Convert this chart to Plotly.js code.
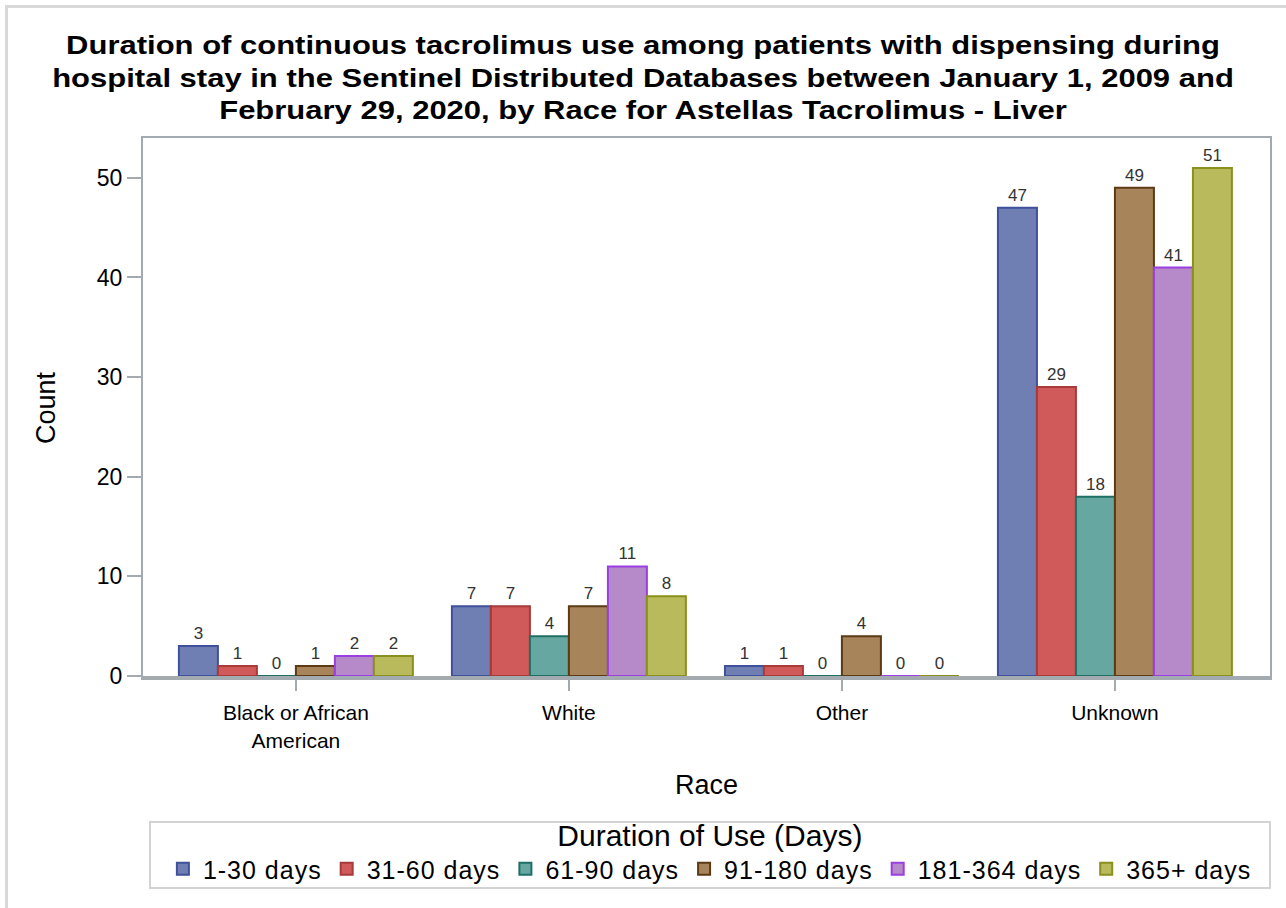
<!DOCTYPE html>
<html>
<head>
<meta charset="utf-8">
<script src="https://cdn.plot.ly/plotly-3.0.1.min.js"></script>
<style>
  html, body { margin: 0; padding: 0; overflow: hidden; background: #fff; }
  #chart { width: 1286px; height: 908px; }
  #frame { position: absolute; left: 5px; top: 5px; width: 1320px; height: 1000px;
           border-left: 3px solid #d9d9d9; border-top: 3px solid #d9d9d9; pointer-events: none; }
  .g-gtitle { transform: scale(1.24, 1); transform-origin: 643px 0px; }
  .legendtext { letter-spacing: 1px; }
</style>
</head>
<body>
<div id="chart"></div>
<div id="frame"></div>
<script>
const categories = ["Black or African<br>American", "White", "Other", "Unknown"];
const seriesNames = ["1-30 days", "31-60 days", "61-90 days", "91-180 days", "181-364 days", "365+ days"];
const days1to30 = [3, 7, 1, 47];
const days31to60 = [1, 7, 1, 29];
const days61to90 = [0, 4, 0, 18];
const days91to180 = [1, 7, 4, 49];
const days181to364 = [2, 11, 0, 41];
const days365plus = [2, 8, 0, 51];
const seriesValues = [days1to30, days31to60, days61to90, days91to180, days181to364, days365plus];
const yTicks = [0, 10, 20, 30, 40, 50];

const fills = ["#6F7EB3", "#D05A5A", "#66A8A1", "#A8845B", "#B689C9", "#B9BA5B"];
const lines = ["#3F519A", "#A83A3A", "#1F6F65", "#5B3A14", "#9B3FE0", "#8A901F"];

const font = "Liberation Sans, Arial, sans-serif";

const traces = seriesNames.map((name, i) => ({
  type: "bar",
  name: name,
  x: categories,
  y: seriesValues[i],
  text: seriesValues[i].map(String),
  textposition: "outside",
  cliponaxis: false,
  textfont: { family: font, size: 17, color: "#333" },
  marker: { color: fills[i], line: { color: lines[i], width: 2 } },
  hoverinfo: "x+y+name"
}));

const axisColor = "#a3abb0";

const layout = {
  width: 1286, height: 908,
  margin: { l: 143, r: 16, t: 138, b: 230 },
  paper_bgcolor: "#fff",
  plot_bgcolor: "#fff",
  font: { family: font, color: "#000" },
  title: {
    text: "<b>Duration of continuous tacrolimus use among patients with dispensing during<br>hospital stay in the Sentinel Distributed Databases between January 1, 2009 and<br>February 29, 2020, by Race for Astellas Tacrolimus - Liver</b>",
    font: { family: font, size: 25, color: "#000" },
    x: 0.5, xanchor: "center", xref: "container",
    y: 0.94, yref: "container", yanchor: "top",
    automargin: false
  },
  barmode: "group",
  bargap: 0.143,
  bargroupgap: 0,
  showlegend: true,
  xaxis: {
    range: [-0.56, 3.568],
    showline: true, linecolor: axisColor, linewidth: 2, mirror: true,
    ticks: "outside", ticklen: 11, tickwidth: 2, tickcolor: axisColor,
    ticklabelstandoff: 4,
    tickfont: { family: font, size: 21, color: "#000" },
    showgrid: false, zeroline: false,
    title: { text: "Race", font: { family: font, size: 27, color: "#000" }, standoff: 25 }
  },
  yaxis: {
    range: [-0.2, 54],
    tickvals: yTicks,
    showline: true, linecolor: axisColor, linewidth: 2, mirror: true,
    ticks: "outside", ticklen: 14, tickwidth: 2, tickcolor: axisColor,
    tickfont: { family: font, size: 23, color: "#000" },
    showgrid: false, zeroline: false,
    title: { text: "Count", font: { family: font, size: 27, color: "#000" }, standoff: 33 }
  },
  legend: {
    orientation: "h",
    xref: "paper", x: 0.503, xanchor: "center",
    yref: "container", y: 0.1112, yanchor: "top",
    bgcolor: "rgba(0,0,0,0)",
    borderwidth: 0,
    font: { family: font, size: 25, color: "#000" },
    title: { text: "Duration of Use (Days)", side: "top center", font: { family: font, size: 30, color: "#000" } },
    itemwidth: 30,
    traceorder: "normal"
  },
  shapes: [
    { type: "line", xref: "paper", yref: "y", x0: 0, x1: 1, y0: -0.2, y1: -0.2,
      line: { color: axisColor, width: 4 } },
    { type: "rect", xref: "paper", yref: "paper", x0: 0.0062, x1: 1.0, y0: -0.3889, y1: -0.2667,
      line: { color: "#d3d3d3", width: 2 }, fillcolor: "rgba(0,0,0,0)", layer: "below" }
  ]
};

Plotly.newPlot("chart", traces, layout, { displayModeBar: false, staticPlot: true });
</script>
</body>
</html>
